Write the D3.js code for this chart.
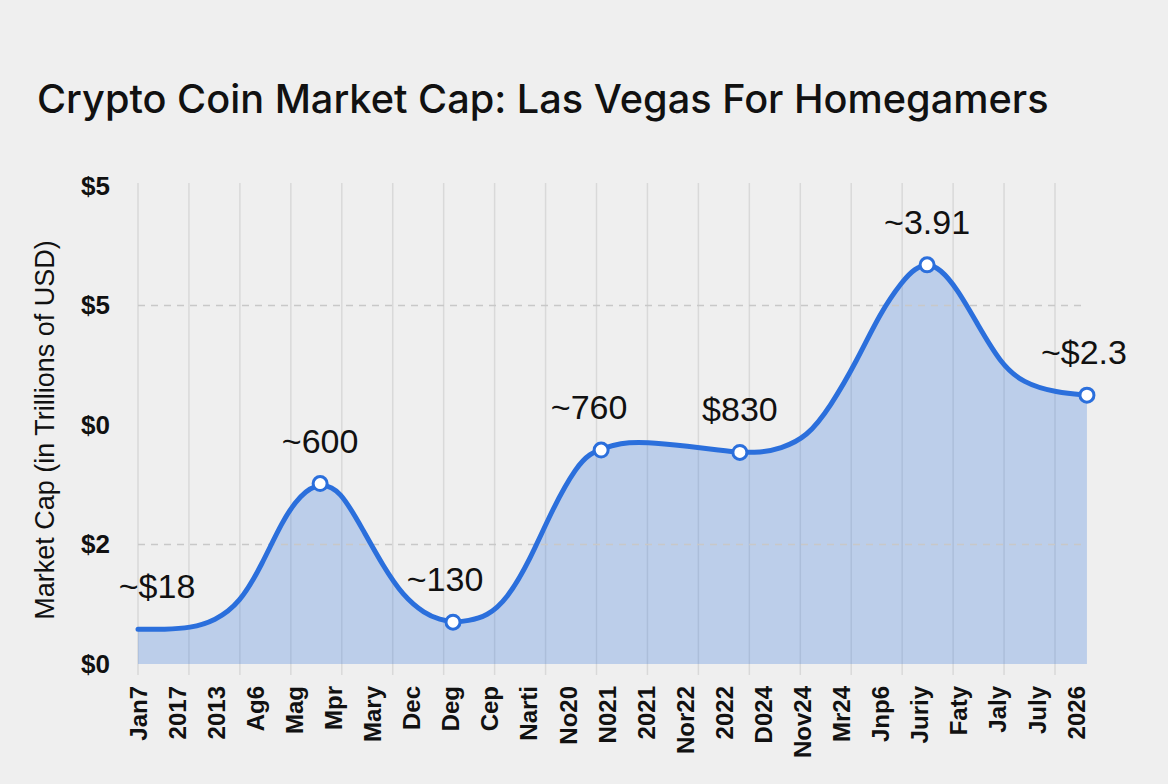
<!DOCTYPE html>
<html>
<head>
<meta charset="utf-8">
<script src="https://cdn.jsdelivr.net/npm/d3@7"></script>
<style>
  body { margin: 0; background: #efefef; }
  svg { display: block; font-family: "Liberation Sans", Arial, sans-serif; }
</style>
</head>
<body>
<svg id="chart" width="1168" height="784"></svg>
<script>
// x labels along the bottom (as printed on the chart)
const xLabels = ["Jan7", "2017", "2013", "Ag6", "Mag", "Mpr", "Mary", "Dec", "Deg", "Cep",
    "Narti", "No20", "N021", "2021", "Nor22", "2022", "D024", "Nov24", "Mr24", "Jnp6",
    "Juriy", "Faty", "Jaly", "July", "2026"];

// y tick labels, bottom to top
const yLabels = ["$0", "$2", "$0", "$5", "$5"];

// curve samples: position in label steps, value in tick steps
const curveX = [0, 0.69, 1.33, 1.97, 2.61, 3.17, 3.68, 4.15, 4.66, 5.17, 5.76, 6.27, 6.78,
    7.34, 7.73, 8.06, 8.44, 8.93, 9.44, 10.03, 10.62, 11.23, 11.57, 11.85, 12.33, 12.97,
    14.12, 14.89, 15.4, 15.91, 16.43, 17.12, 17.71, 18.4, 18.99, 19.57, 19.88, 20.19,
    20.52, 20.96, 21.47, 22.06, 22.64, 23.51, 24.28];
const curveY = [0.29, 0.29, 0.3, 0.36, 0.51, 0.83, 1.19, 1.42, 1.52, 1.46, 1.12, 0.82, 0.57,
    0.42, 0.37, 0.35, 0.36, 0.4, 0.54, 0.87, 1.31, 1.66, 1.76, 1.8, 1.85, 1.86,
    1.82, 1.79, 1.77, 1.77, 1.8, 1.9, 2.15, 2.54, 2.94, 3.21, 3.31, 3.35,
    3.31, 3.14, 2.85, 2.52, 2.35, 2.27, 2.25];

// annotated points
const noteText = ["~$18", "~600", "~130", "~760", "$830", "~3.91", "~$2.3"];
const noteX = [0, 4.66, 8.06, 11.85, 15.4, 20.19, 24.28];
const noteY = [0.29, 1.51, 0.35, 1.79, 1.77, 3.34, 2.25];
const noteMarker = [false, true, true, true, true, true, true];

const svg = d3.select("#chart");
const m = { left: 138, right: 1076, top: 186, bottom: 664 };

let x = d3.scaleLinear().domain([0, 24]).range([m.left, m.right]);
let y = d3.scaleLinear().domain([0, 4]).range([m.bottom, m.top]);
let gridX = d3.scaleLinear().domain([0, 18]).range([m.left, 1055]);

// title
svg.append("text")
    .attr("x", 37)
    .attr("y", 113)
    .attr("font-family", "Inter, 'Liberation Sans', sans-serif")
    .attr("font-size", 39.7)
    .attr("font-weight", 500)
    .attr("fill", "#111")
    .text("Crypto Coin Market Cap: Las Vegas For Homegamers");

// vertical grid
svg.append("g")
    .selectAll("line")
    .data(d3.range(19))
    .join("line")
    .attr("x1", d => gridX(d))
    .attr("x2", d => gridX(d))
    .attr("y1", m.top - 3)
    .attr("y2", m.bottom + 11)
    .attr("stroke", "#d9d9d9")
    .attr("stroke-width", 1.5);

let points = curveX.map((d, i) => ({ x: d, y: curveY[i] }));
let curve = d3.curveBasis;

let area = d3.area()
    .x(d => x(d.x))
    .y0(y(0))
    .y1(d => y(d.y))
    .curve(curve);

let line = d3.line()
    .x(d => x(d.x))
    .y(d => y(d.y))
    .curve(curve);

svg.append("path")
    .datum(points)
    .attr("d", area)
    .attr("fill", "#3a7be0")
    .attr("fill-opacity", 0.28);

// dashed horizontal grid
svg.append("g")
    .selectAll("line")
    .data([1, 3])
    .join("line")
    .attr("x1", m.left)
    .attr("x2", 1087)
    .attr("y1", d => y(d))
    .attr("y2", d => y(d))
    .attr("stroke", "#c8c8c8")
    .attr("stroke-width", 1.5)
    .attr("stroke-dasharray", "7,6");

svg.append("path")
    .datum(points)
    .attr("d", line)
    .attr("fill", "none")
    .attr("stroke", "#2b6fdc")
    .attr("stroke-width", 5)
    .attr("stroke-linecap", "round");

// y axis
let yAxis = d3.axisLeft(y)
    .tickValues(d3.range(5))
    .tickFormat(d => yLabels[d])
    .tickSize(0)
    .tickPadding(28);

svg.append("g")
    .attr("transform", `translate(${m.left},0)`)
    .call(yAxis)
    .call(g => g.select(".domain").remove())
    .selectAll("text")
    .attr("font-size", 26)
    .attr("font-weight", "bold")
    .attr("fill", "#111")
    .attr("font-family", "Liberation Sans, Arial, sans-serif");

svg.append("text")
    .attr("transform", "translate(54,430) rotate(-90)")
    .attr("text-anchor", "middle")
    .attr("font-size", 27)
    .attr("fill", "#111")
    .text("Market Cap (in Trillions of USD)");

// x labels
svg.append("g")
    .selectAll("text")
    .data(xLabels)
    .join("text")
    .attr("transform", (d, i) => `translate(${x(i)},686) rotate(-90)`)
    .attr("text-anchor", "end")
    .attr("dy", "0.36em")
    .attr("font-size", 24)
    .attr("font-weight", "bold")
    .attr("fill", "#111")
    .text(d => d);

// markers and notes
let notes = noteText.map((d, i) => ({ text: d, x: noteX[i], y: noteY[i], marker: noteMarker[i] }));
let noteShift = [19, 0, -8, -12, 0, 0, -3];

svg.append("g")
    .selectAll("circle")
    .data(notes.filter(d => d.marker))
    .join("circle")
    .attr("cx", d => x(d.x))
    .attr("cy", d => y(d.y))
    .attr("r", 7)
    .attr("fill", "#fff")
    .attr("stroke", "#2b6fdc")
    .attr("stroke-width", 3);

svg.append("g")
    .selectAll("text")
    .data(notes)
    .join("text")
    .attr("x", (d, i) => x(d.x) + noteShift[i])
    .attr("y", d => y(d.y) - 31)
    .attr("text-anchor", "middle")
    .attr("font-size", 34)
    .attr("fill", "#111")
    .text(d => d.text);
</script>
</body>
</html>
